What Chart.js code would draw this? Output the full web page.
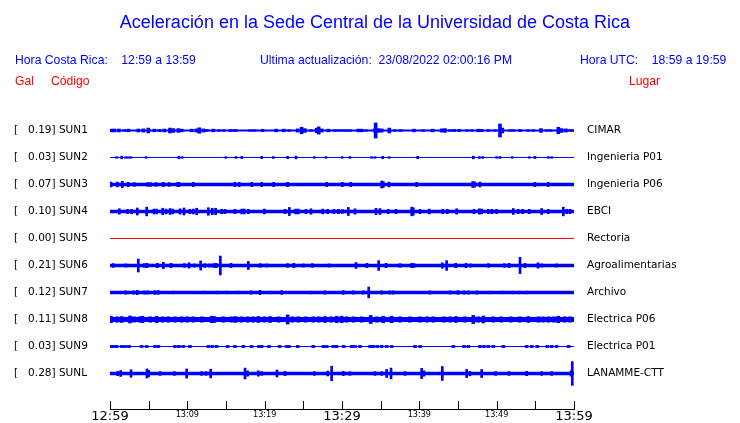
<!DOCTYPE html>
<html>
<head>
<meta charset="utf-8">
<script src="https://cdn.jsdelivr.net/npm/chart.js@4/dist/chart.umd.min.js"></script>
<style>
  body { margin: 0; background: #fff; }
  #wrap { position: relative; width: 740px; height: 423px; }
  .t { position: absolute; white-space: pre; line-height: 1; font-family: "Liberation Sans", Arial, sans-serif; font-size: 12.2px; color: #0000ff; }
  .red { color: #ff0000; }
</style>
</head>
<body>
<div id="wrap">
  <canvas id="chart" width="740" height="423"></canvas>
  <div class="t" style="left:0;width:750px;text-align:center;top:13px;font-size:18px;">Aceleración en la Sede Central de la Universidad de Costa Rica</div>
  <div class="t" style="left:15px;top:54px;">Hora Costa Rica:    12:59 a 13:59</div>
  <div class="t" style="left:260px;top:54px;">Ultima actualización:  23/08/2022 02:00:16 PM</div>
  <div class="t" style="left:580px;top:54px;">Hora UTC:    18:59 a 19:59</div>
  <div class="t red" style="left:15px;top:75px;">Gal</div>
  <div class="t red" style="left:51px;top:75px;">Código</div>
  <div class="t red" style="left:629px;top:75px;">Lugar</div>
</div>
<script>
// Station data (rows from top to bottom)
const codes = ['SUN1', 'SUN2', 'SUN3', 'SUN4', 'SUN5', 'SUN6', 'SUN7', 'SUN8', 'SUN9', 'SUNL'];
const places = ['CIMAR', 'Ingenieria P01', 'Ingenieria P06', 'EBCI', 'Rectoria',
                'Agroalimentarias', 'Archivo', 'Electrica P06', 'Electrica P01', 'LANAMME-CTT'];
const peakGal = [0.19, 0.03, 0.07, 0.10, 0.00, 0.21, 0.12, 0.11, 0.03, 0.28];

// x axis: minutes after 12:59, labels every 10 minutes
const timeLabels = ['12:59', '13:09', '13:19', '13:29', '13:39', '13:49', '13:59'];

// Bursts: [minute, half amplitude]
const sun1 = [[0.13,0.05],[0.56,0.055],[1.16,0.055],[1.85,0.03],[2.37,0.05],[3.66,0.055],[4.31,0.06],[4.96,0.09],
  [5.73,0.05],[6.38,0.04],[7.03,0.055],[7.76,0.09],[8.19,0.07],[8.84,0.07],[9.27,0.05],[10.56,0.05],[11.2,0.06],
  [11.55,0.1],[12.07,0.06],[12.5,0.035],[13.36,0.05],[14.14,0.03],[14.7,0.03],[15.52,0.03],[15.86,0.03],[16.25,0.035],
  [18.15,0.03],[18.66,0.03],[19.74,0.045],[21.5,0.05],[22.46,0.05],[23.15,0.03],[24.27,0.06],[24.78,0.12],[25.2,0.07],
  [25.99,0.03],[26.72,0.08],[26.98,0.135],[27.37,0.06],[28.23,0.05],[29.0,0.03],[29.53,0.03],[30.04,0.03],
  [30.5,0.03],[31.03,0.03],[32.1,0.05],[32.54,0.05],[33.1,0.03],[34.22,0.06],[34.35,0.28],[34.7,0.07],[35.13,0.06],
  [36.12,0.09],[36.85,0.03],[37.58,0.03],[39.31,0.05],[40.5,0.03],[41.72,0.05],[42.9,0.06],[43.32,0.07],[43.96,0.03],
  [44.5,0.04],[45.17,0.045],[46.2,0.03],[46.77,0.03],[47.63,0.05],[48.06,0.045],[48.92,0.03],[49.78,0.03],[50.43,0.24],
  [50.73,0.09],[51.72,0.03],[52.15,0.03],[53.02,0.04],[54.1,0.03],[54.74,0.03],[55.73,0.07],[56.46,0.03],[56.98,0.03],
  [57.97,0.12],[58.4,0.07],[58.96,0.06],[59.48,0.03],[59.83,0.03]];
const sun2 = [[0.86,0.03],[1.51,0.05],[2.03,0.03],[2.37,0.03],[2.72,0.03],[4.66,0.03],[8.92,0.05],[9.35,0.03],
  [14.96,0.03],[16.29,0.035],[17.03,0.04],[19.61,0.045],[21.12,0.035],[22.97,0.045],[24.05,0.05],[26.42,0.03],
  [27.93,0.03],[30.04,0.03],[31.03,0.035],[33.83,0.03],[34.27,0.03],[35.26,0.045],[36.12,0.03],[39.78,0.045],
  [46.98,0.05],[47.76,0.035],[48.19,0.035],[50.0,0.03],[50.43,0.035],[52.02,0.03],[54.22,0.03],[54.96,0.04],
  [56.68,0.03],[57.11,0.03]];
const sun3 = [[0.13,0.09],[0.95,0.09],[1.6,0.12],[2.37,0.08],[3.15,0.07],[4.87,0.07],[5.26,0.07],[5.95,0.07],
  [6.9,0.08],[7.67,0.07],[8.75,0.08],[8.92,0.08],[10.78,0.08],[16.16,0.08],[16.72,0.08],[18.32,0.08],[19.61,0.08],
  [21.16,0.08],[22.97,0.08],[28.02,0.08],[30.04,0.08],[31.12,0.08],[35.13,0.13],[35.34,0.11],[36.08,0.09],
  [39.65,0.08],[46.9,0.11],[47.15,0.1],[47.84,0.09],[54.96,0.08],[56.68,0.08]];
const sun4 = [[1.21,0.1],[2.28,0.08],[2.8,0.08],[3.53,0.13],[4.74,0.16],[5.69,0.09],[6.03,0.09],[6.81,0.12],
  [7.24,0.09],[7.76,0.11],[8.1,0.09],[9.05,0.1],[9.57,0.13],[10.34,0.08],[10.78,0.09],[11.21,0.12],[12.72,0.14],
  [13.23,0.12],[13.66,0.12],[14.44,0.08],[14.87,0.08],[16.16,0.08],[17.03,0.09],[17.37,0.09],[17.89,0.08],
  [19.96,0.09],[22.63,0.08],[23.19,0.15],[24.0,0.09],[24.35,0.09],[25.34,0.08],[25.99,0.1],[27.5,0.09],[28.15,0.08],
  [28.97,0.08],[29.53,0.08],[30.04,0.07],[30.82,0.15],[31.68,0.1],[34.4,0.12],[34.91,0.11],[35.99,0.08],[36.98,0.08],
  [39.01,0.16],[39.22,0.14],[40.08,0.08],[41.29,0.09],[43.02,0.08],[43.62,0.08],[44.83,0.1],[47.07,0.08],[47.76,0.1],
  [48.06,0.09],[48.92,0.08],[49.4,0.08],[50.0,0.08],[52.15,0.11],[52.8,0.08],[53.36,0.08],[54.22,0.08],[55.82,0.11],
  [56.68,0.08],[58.62,0.16],[59.05,0.08],[59.48,0.08]];
const sun5 = [];
const sun6 = [[0.43,0.07],[2.03,0.06],[3.66,0.24],[4.44,0.07],[4.78,0.08],[6.12,0.08],[6.9,0.12],[7.89,0.08],
  [9.61,0.07],[10.22,0.1],[10.91,0.06],[11.72,0.17],[12.28,0.07],[12.84,0.06],[13.36,0.07],[13.71,0.08],[14.27,0.35],
  [15.65,0.08],[17.89,0.15],[19.44,0.07],[20.26,0.06],[22.97,0.07],[23.79,0.08],[25.0,0.06],[26.16,0.07],[28.32,0.06],
  [31.81,0.11],[33.23,0.08],[34.74,0.18],[35.69,0.08],[37.5,0.07],[39.01,0.08],[39.31,0.07],[42.97,0.1],[43.53,0.18],
  [44.7,0.08],[46.03,0.08],[46.64,0.06],[48.92,0.07],[50.99,0.07],[51.59,0.08],[53.02,0.3],[53.66,0.08],[55.34,0.1],
  [55.82,0.06],[57.76,0.06]];
const sun7 = [[2.03,0.06],[3.06,0.06],[3.53,0.08],[4.44,0.06],[4.87,0.06],[5.82,0.07],[6.25,0.07],[8.19,0.05],
  [12.07,0.05],[13.84,0.05],[15.09,0.05],[16.59,0.05],[18.23,0.06],[19.4,0.08],[20.69,0.05],[22.2,0.07],[25.95,0.05],
  [27.8,0.06],[30.17,0.07],[31.46,0.06],[32.76,0.06],[33.45,0.2],[35.13,0.06],[36.21,0.06],[36.64,0.06],[41.38,0.06],
  [43.96,0.06],[45.0,0.07],[45.78,0.06],[46.34,0.06],[47.41,0.06],[49.14,0.05],[50.65,0.05],[52.07,0.05],[52.93,0.05],
  [53.88,0.05]];
const sun8 = [[0.13,0.12],[0.9,0.1],[1.51,0.11],[2.59,0.13],[3.1,0.1],[3.88,0.1],[4.18,0.12],[5.2,0.1],[6.03,0.12],
  [6.8,0.1],[7.54,0.1],[8.4,0.1],[9.27,0.1],[10.0,0.1],[10.78,0.1],[11.9,0.1],[13.15,0.12],[13.49,0.11],[14.66,0.1],
  [15.73,0.1],[16.25,0.11],[17.0,0.1],[17.8,0.1],[18.5,0.1],[19.18,0.11],[20.0,0.1],[20.69,0.11],[21.8,0.1],
  [22.97,0.17],[23.6,0.1],[24.35,0.1],[25.3,0.1],[26.29,0.1],[27.0,0.1],[27.8,0.11],[28.6,0.1],[29.31,0.12],
  [29.96,0.12],[30.6,0.1],[31.5,0.1],[32.54,0.1],[33.71,0.15],[34.5,0.1],[35.34,0.12],[36.42,0.12],[37.5,0.1],
  [38.79,0.1],[40.09,0.1],[41.0,0.1],[41.81,0.1],[43.19,0.1],[44.0,0.1],[44.74,0.11],[45.9,0.1],[46.98,0.15],
  [47.6,0.1],[48.27,0.13],[49.57,0.1],[50.6,0.1],[51.81,0.1],[53.0,0.1],[54.1,0.11],[55.39,0.1],[56.0,0.1],
  [56.68,0.1],[57.4,0.1],[57.97,0.12],[58.8,0.1],[59.48,0.1]];
const sun9 = [[0.22,0.04],[0.56,0.04],[0.86,0.04],[1.51,0.04],[1.94,0.04],[2.46,0.04],[4.09,0.04],[4.74,0.04],
  [5.82,0.04],[6.25,0.04],[8.41,0.04],[8.92,0.04],[9.48,0.04],[10.34,0.04],[12.72,0.04],[13.23,0.04],[13.79,0.04],
  [15.22,0.04],[16.16,0.04],[17.24,0.04],[18.32,0.04],[19.27,0.04],[19.61,0.04],[20.56,0.04],[21.94,0.04],
  [22.84,0.04],[23.15,0.04],[24.27,0.04],[26.29,0.04],[27.59,0.04],[28.02,0.04],[28.88,0.04],[29.31,0.04],
  [30.22,0.04],[31.25,0.04],[31.68,0.04],[32.33,0.04],[33.62,0.04],[34.05,0.04],[34.57,0.04],[35.13,0.04],
  [35.77,0.04],[36.42,0.04],[39.44,0.04],[40.09,0.04],[44.4,0.04],[45.77,0.04],[46.34,0.04],[47.84,0.04],
  [48.36,0.04],[48.92,0.04],[49.57,0.04],[50.86,0.04],[53.88,0.04],[54.53,0.04],[55.26,0.04],[56.55,0.04],
  [57.11,0.04],[57.76,0.04],[59.31,0.04]];
const sunL = [[0.99,0.08],[1.38,0.11],[2.72,0.14],[4.78,0.17],[5.0,0.12],[6.47,0.07],[8.32,0.07],[9.91,0.17],
  [11.85,0.07],[12.41,0.07],[13.02,0.16],[17.46,0.2],[17.8,0.1],[19.18,0.1],[19.61,0.07],[21.59,0.13],[22.63,0.08],
  [26.42,0.07],[28.15,0.09],[28.66,0.27],[30.17,0.08],[31.03,0.07],[34.27,0.07],[35.13,0.07],[35.77,0.15],[36.34,0.2],
  [38.15,0.07],[40.3,0.19],[40.6,0.1],[42.97,0.26],[46.12,0.15],[46.55,0.08],[48.06,0.15],[49.87,0.07],[51.59,0.07],
  [53.88,0.08],[55.82,0.07],[57.11,0.07],[59.61,0.1],[59.78,0.44]];
const bursts = [sun1, sun2, sun3, sun4, sun5, sun6, sun7, sun8, sun9, sunL];

// Trace styles
const traceColors = ['#0000ff', '#0000ff', '#0000ff', '#0000ff', '#ff0000', '#0000ff', '#0000ff', '#0000ff', '#0000ff', '#0000ff'];
const traceWidths = [2, 1, 3.5, 3.5, 1, 3.5, 3.5, 5, 1, 3.5];
const spikeWidths = [3, 2, 2, 2, 2, 2, 2, 3, 3, 2];

const datasets = [];
codes.forEach((code, i) => {
    const row = i + 1;
    datasets.push({
        type: 'line',
        label: code,
        data: [{ x: 0, y: row }, { x: 60, y: row }],
        borderColor: traceColors[i],
        borderWidth: traceWidths[i],
        pointRadius: 0
    });
    datasets.push({
        type: 'bar',
        label: code + ' bursts',
        data: bursts[i].map(([m, a]) => ({ x: m, y: [row - a, row + a] })),
        backgroundColor: traceColors[i],
        borderWidth: 0,
        barThickness: spikeWidths[i],
        grouped: false
    });
});

const rowTicks = scale => { scale.ticks = codes.map((c, i) => ({ value: i + 1 })); };
const noPad = s => { s.paddingTop = 0; s.paddingBottom = 0; };

// Tick marks pointing up from the time axis
const upTicks = {
    id: 'upTicks',
    afterDraw(chart) {
        const x = chart.scales.x;
        const ctx = chart.ctx;
        const bottom = chart.chartArea.bottom;
        ctx.save();
        ctx.strokeStyle = '#000';
        ctx.lineWidth = 1;
        ctx.beginPath();
        x.ticks.forEach(t => {
            const px = Math.round(x.getPixelForValue(t.value)) + 0.5;
            ctx.moveTo(px, bottom);
            ctx.lineTo(px, bottom - 8);
        });
        ctx.stroke();
        ctx.restore();
    }
};

new Chart(document.getElementById('chart'), {
    type: 'line',
    data: { datasets },
    plugins: [upTicks],
    options: {
        responsive: false,
        animation: false,
        layout: { padding: { top: 103, left: 14, right: 0, bottom: 0 } },
        plugins: { legend: { display: false }, tooltip: { enabled: false } },
        scales: {
            x: {
                type: 'linear',
                min: 0,
                max: 60,
                offset: false,
                grid: { display: false, drawTicks: false, offset: false },
                border: { display: true, color: '#000', width: 1 },
                afterFit: s => { s.height = 14; s.paddingLeft = 0; s.paddingRight = 0; },
                ticks: {
                    stepSize: 5,
                    autoSkip: false,
                    maxRotation: 0,
                    padding: 0,
                    color: '#000',
                    font: c => (c.tick && c.tick.value % 30 === 0)
                        ? { family: 'DejaVu Sans', size: 13 }
                        : { family: 'DejaVu Sans Condensed, DejaVu Sans', size: 9 },
                    callback: v => (v % 10 === 0 ? timeLabels[v / 10] : '')
                }
            },
            y: {
                type: 'linear',
                position: 'left',
                reverse: true,
                min: -0.0185,
                max: 11.315,
                grid: { display: false, drawTicks: false },
                border: { display: false },
                afterBuildTicks: rowTicks,
                afterFit: s => { s.width = 96; noPad(s); },
                ticks: {
                    crossAlign: 'far',
                    color: '#000',
                    font: { family: 'DejaVu Sans', size: 10.5 },
                    callback: v => `[   ${peakGal[v - 1].toFixed(2)}] ${codes[v - 1]}`
                }
            },
            y2: {
                type: 'linear',
                position: 'right',
                reverse: true,
                min: -0.0185,
                max: 11.315,
                grid: { display: false, drawTicks: false },
                border: { display: false },
                afterBuildTicks: rowTicks,
                afterFit: s => { s.width = 166; noPad(s); },
                ticks: {
                    padding: 13,
                    color: '#000',
                    font: { family: 'DejaVu Sans', size: 10.5 },
                    callback: v => places[v - 1]
                }
            }
        }
    }
});
</script>
</body>
</html>
